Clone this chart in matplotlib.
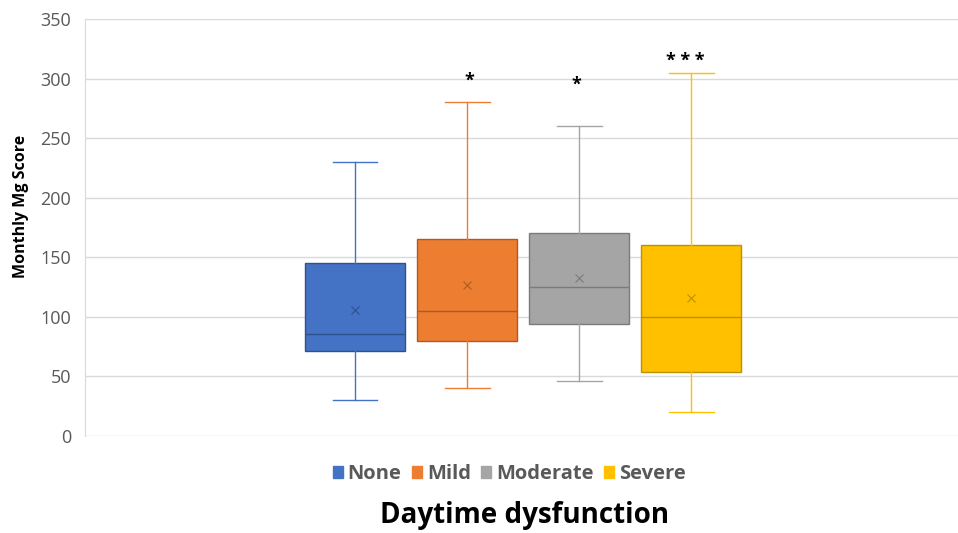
import matplotlib.pyplot as plt

# values
categories = ['None', 'Mild', 'Moderate', 'Severe']
whisker_low = [30, 40, 46, 20]
q1 = [71, 80, 94, 54]
median = [86, 105, 125, 100]
q3 = [145, 165, 170, 160]
whisker_high = [230, 280, 260, 305]
mean = [106, 127, 133, 116]
signif = ['', '*', '*', '* * *']
sig_y = [300, 291, 287, 307]
sig_dx = [0, 0.02, -0.03, -0.05]

colors = ['#4472C4', '#ED7D31', '#A5A5A5', '#FFC000']
dark = ['#2F528F', '#AE5A21', '#7B7B7B', '#BF9000']

plt.rcParams['font.family'] = ['Open Sans', 'DejaVu Sans']

fig = plt.figure(figsize=(9.58, 5.33), dpi=100)
ax = fig.add_axes([85 / 958, 97 / 533, 873 / 958, 417 / 533])

positions = [1, 2, 3, 4]
for i, pos in enumerate(positions):
    stats = [{'whislo': whisker_low[i], 'q1': q1[i], 'med': median[i],
              'q3': q3[i], 'whishi': whisker_high[i], 'mean': mean[i],
              'label': categories[i]}]
    ax.bxp(stats, positions=[pos], widths=0.89, patch_artist=True,
           showmeans=True, showfliers=False,
           boxprops=dict(facecolor=colors[i], edgecolor=dark[i], linewidth=1),
           whiskerprops=dict(color=colors[i], linewidth=1),
           capprops=dict(color=colors[i], linewidth=1),
           medianprops=dict(color=dark[i], linewidth=1),
           meanprops=dict(marker='x', markeredgecolor=dark[i], markersize=6,
                          markeredgewidth=0.8),
           capwidths=0.4, zorder=3)
    if signif[i]:
        ax.text(pos + sig_dx[i], sig_y[i], signif[i], ha='center', va='bottom',
                fontsize=13, fontweight='bold', color='black')

ax.set_xlim(-1.41, 6.38)
ax.set_ylim(0, 350)
ax.set_yticks(range(0, 351, 50))
ax.set_xticks([])
ax.yaxis.grid(True, color='#D9D9D9', linewidth=1, zorder=0)
ax.set_axisbelow(True)
for side in ['top', 'right', 'bottom']:
    ax.spines[side].set_visible(False)
ax.spines['left'].set_color('#D9D9D9')
ax.tick_params(axis='y', length=0, labelsize=13, labelcolor='#595959', pad=10)
ax.set_ylabel('Monthly Mg Score', fontsize=11.5, fontweight='bold')
ax.yaxis.set_label_coords(-0.064, 0.55)

handles = [plt.Rectangle((0, 0), 1, 1, color=c) for c in colors]
fig.legend(handles, categories, loc='center', bbox_to_anchor=(509 / 958, 1 - 474 / 533),
           ncol=4, frameon=False, handlelength=0.5, handleheight=0.5,
           handletextpad=0.25, columnspacing=0.5,
           prop={'size': 14.5, 'weight': 'bold'}, labelcolor='#595959')
fig.text(525 / 958, 1 - 516 / 533, 'Daytime dysfunction', ha='center', va='center',
         fontsize=20, fontweight='bold', color='black')

fig.savefig('out.png', dpi=100)
